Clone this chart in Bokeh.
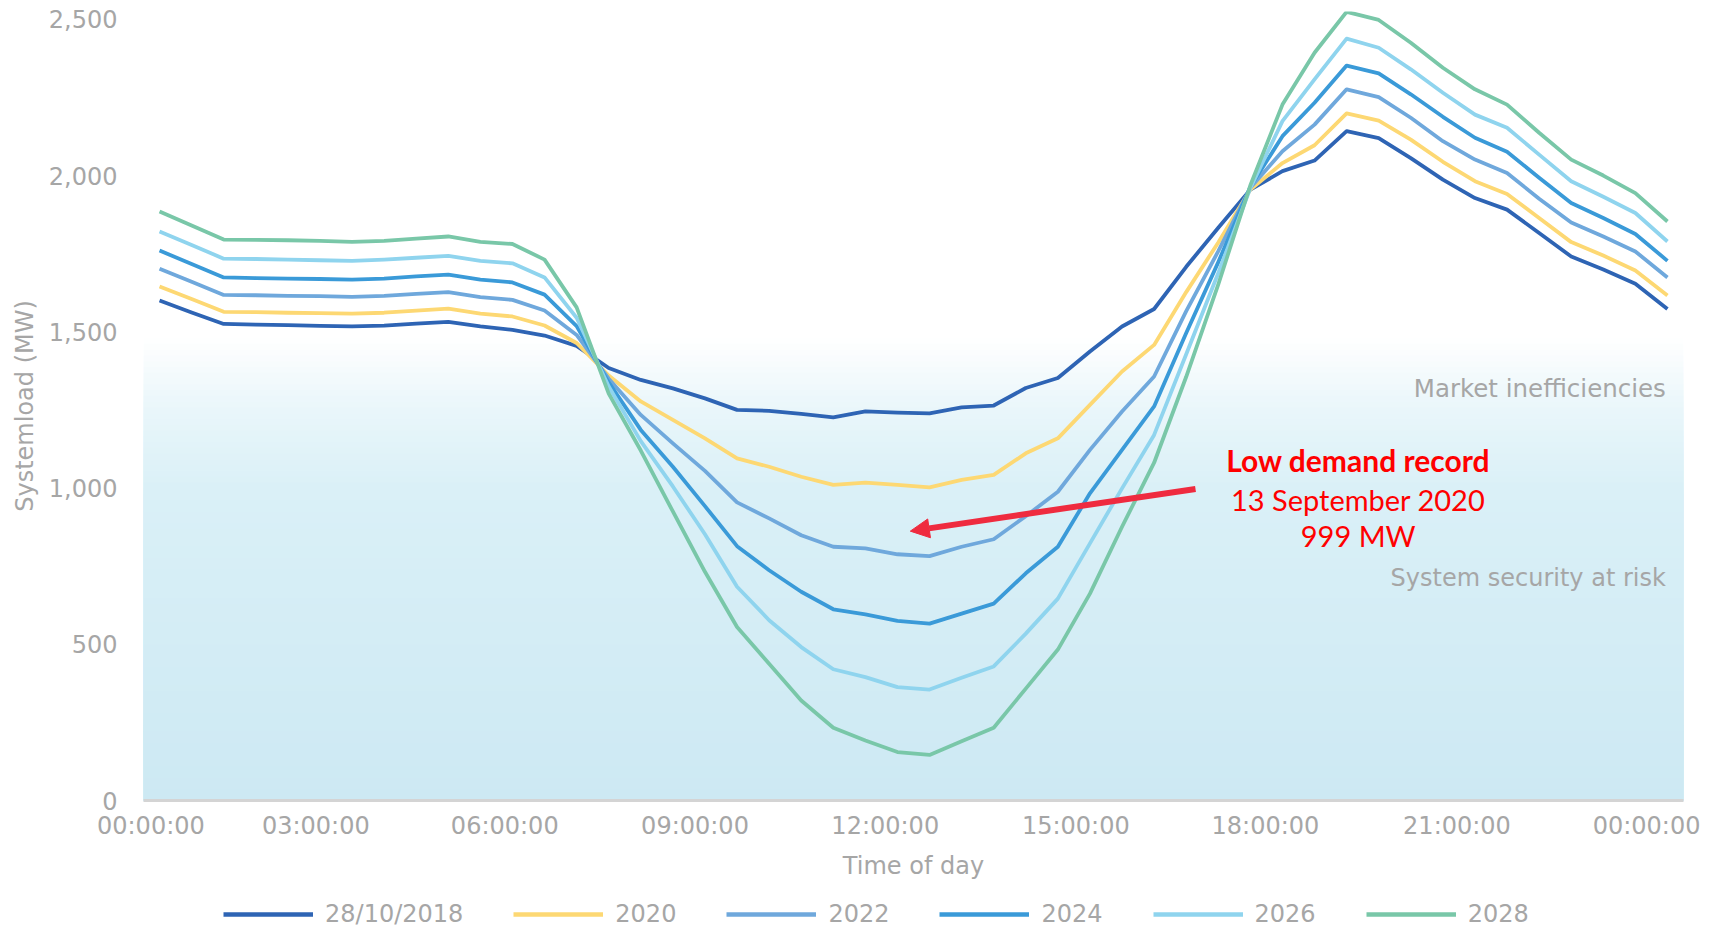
from bokeh.plotting import figure
from bokeh.layouts import column
from bokeh.models import (Range1d, FixedTicker, NumeralTickFormatter, Legend, LegendItem,
                          Label, Arrow, NormalHead)
from bokeh.embed import file_html
from bokeh.resources import INLINE

# ---------------- data (half-hourly samples, MW) ----------------
series_names = ["28/10/2018", "2020", "2022", "2024", "2026", "2028"]
series_colors = ["#2e64b4", "#fdd873", "#6fa8dc", "#3a9ad8", "#8fd4ee", "#79c7a8"]

load_2018 = [1600, 1562, 1525, 1523, 1521, 1519, 1517, 1520, 1526, 1532, 1517, 1506,
             1488, 1455, 1384, 1346, 1319, 1287, 1250, 1247, 1237, 1226, 1245, 1241,
             1239, 1258, 1264, 1320, 1352, 1437, 1517, 1573, 1708, 1833, 1955, 2014,
             2048, 2142, 2120, 2056, 1987, 1928, 1891, 1816, 1741, 1699, 1654, 1573]
load_2020 = [1645, 1605, 1564, 1563, 1561, 1560, 1558, 1561, 1568, 1574, 1558, 1549,
             1520, 1464, 1360, 1277, 1218, 1159, 1095, 1068, 1036, 1010, 1017, 1010,
             1002, 1026, 1042, 1111, 1159, 1266, 1373, 1458, 1627, 1786, 1955, 2040,
             2097, 2199, 2176, 2115, 2044, 1982, 1941, 1864, 1787, 1744, 1696, 1616]
load_2022 = [1702, 1660, 1618, 1617, 1615, 1614, 1612, 1615, 1621, 1627, 1611, 1602,
             1568, 1490, 1350, 1234, 1143, 1055, 954, 903, 849, 812, 807, 788,
             782, 812, 836, 910, 988, 1122, 1245, 1357, 1566, 1758, 1961, 2078,
             2163, 2276, 2251, 2185, 2110, 2051, 2008, 1926, 1850, 1805, 1757, 1674]
load_2024 = [1760, 1717, 1674, 1672, 1670, 1669, 1667, 1670, 1677, 1683, 1667, 1658,
             1619, 1518, 1338, 1186, 1068, 942, 814, 737, 668, 612, 596, 575,
             566, 598, 630, 727, 812, 983, 1122, 1261, 1496, 1723, 1964, 2126,
             2233, 2352, 2327, 2260, 2188, 2121, 2076, 1993, 1912, 1864, 1813, 1727]
load_2026 = [1821, 1778, 1734, 1733, 1731, 1729, 1727, 1731, 1737, 1743, 1727, 1719,
             1674, 1545, 1325, 1150, 1005, 852, 684, 577, 491, 420, 395, 363,
             355, 393, 429, 534, 646, 823, 999, 1170, 1428, 1688, 1960, 2174,
             2308, 2438, 2409, 2340, 2265, 2195, 2153, 2067, 1982, 1932, 1880, 1789]
load_2028 = [1885, 1840, 1795, 1794, 1793, 1791, 1788, 1791, 1798, 1805, 1788, 1781,
             1731, 1578, 1302, 1120, 925, 732, 555, 438, 320, 233, 192, 155,
             146, 190, 233, 358, 483, 662, 876, 1081, 1356, 1652, 1969, 2227,
             2393, 2524, 2498, 2425, 2345, 2276, 2227, 2137, 2051, 2000, 1944, 1853]
all_series = [load_2018, load_2020, load_2022, load_2024, load_2026, load_2028]
slot = list(range(len(load_2018)))   # half-hour slot index

x_tick_positions = [-0.27, 4.87, 10.76, 16.69, 22.62, 28.56, 34.47, 40.44, 46.35]
x_tick_labels = ["00:00:00", "03:00:00", "06:00:00", "09:00:00", "12:00:00",
                 "15:00:00", "18:00:00", "21:00:00", "00:00:00"]
y_ticks = [0, 500, 1000, 1500, 2000, 2500]

# background gradient stops (value, colour)
grad_values = [0, 1000, 1250, 1480]
grad_colors = ["#cde9f3", "#daf0f7", "#e9f6fa", "#ffffff"]

GREY = "#a6a6a6"
FONT = "DejaVu Sans"

X0, X1 = -0.5, 47.5
Y0, Y1 = 0, 2525

p = figure(width=1705, height=897, output_backend="svg", toolbar_location=None,
           x_range=Range1d(X0, X1), y_range=Range1d(Y0, Y1),
           min_border_left=143, min_border_right=22, min_border_top=11, min_border_bottom=97)
p.outline_line_color = None
p.grid.visible = False
p.background_fill_color = "white"

# gradient shading (decorative, stacked from 0 so there are no seams)
def hex2rgb(h):
    return tuple(int(h[i:i + 2], 16) for i in (1, 3, 5))

def interp_color(v):
    for k in range(len(grad_values) - 1):
        a, b = grad_values[k], grad_values[k + 1]
        if a <= v <= b:
            t = (v - a) / (b - a)
            ca, cb = hex2rgb(grad_colors[k]), hex2rgb(grad_colors[k + 1])
            c = [round(ca[j] + (cb[j] - ca[j]) * t) for j in range(3)]
            return "#%02x%02x%02x" % tuple(c)
    return grad_colors[-1]

nb = 80
step = grad_values[-1] / nb
band_tops = [grad_values[-1] - k * step for k in range(nb)]          # largest first
band_cols = [interp_color(t - step / 2) for t in band_tops]
p.quad(left=X0, right=X1, bottom=0, top=band_tops, fill_color=band_cols, line_color=None)

# lines
for vals, col in zip(all_series, series_colors):
    p.line(slot, vals, line_color=col, line_width=3.8, line_join="round")

# axes
xa = p.xaxis[0]
xa.ticker = FixedTicker(ticks=x_tick_positions)
xa.major_label_overrides = {t: l for t, l in zip(x_tick_positions, x_tick_labels)}
xa.major_tick_line_color = None
xa.minor_tick_line_color = None
xa.axis_line_color = "#d4d4d4"
xa.axis_line_width = 3
xa.major_label_standoff = 5
xa.major_label_text_font = FONT
xa.major_label_text_font_size = "24px"
xa.major_label_text_color = GREY
xa.axis_label = "Time of day"
xa.axis_label_text_font = FONT
xa.axis_label_text_font_size = "24px"
xa.axis_label_text_font_style = "normal"
xa.axis_label_text_color = GREY
xa.axis_label_standoff = 9

ya = p.yaxis[0]
ya.ticker = FixedTicker(ticks=y_ticks)
ya.formatter = NumeralTickFormatter(format="0,0")
ya.major_tick_line_color = None
ya.minor_tick_line_color = None
ya.axis_line_color = None
ya.major_label_standoff = 20
ya.major_label_text_font = FONT
ya.major_label_text_font_size = "24px"
ya.major_label_text_color = GREY
ya.axis_label = "Systemload (MW)"
ya.axis_label_text_font = FONT
ya.axis_label_text_font_size = "24px"
ya.axis_label_text_font_style = "normal"
ya.axis_label_text_color = GREY
ya.axis_label_standoff = 7

# zone labels
p.add_layout(Label(x=46.95, y=1320, text="Market inefficiencies", text_align="right",
                   text_baseline="middle", text_font=FONT, text_font_size="24.5px",
                   text_color=GREY))
p.add_layout(Label(x=46.95, y=712, text="System security at risk", text_align="right",
                   text_baseline="middle", text_font=FONT, text_font_size="24px",
                   text_color=GREY))

# record annotation
RED = "#ff0000"
p.add_layout(Label(x=37.36, y=1090, text="Low demand record", text_align="center",
                   text_baseline="middle", text_font="Lato", text_font_size="30px",
                   text_font_style="bold", text_color=RED))
p.add_layout(Label(x=37.36, y=964, text="13 September 2020", text_align="center",
                   text_baseline="middle", text_font="Lato", text_font_size="29px",
                   text_color=RED))
p.add_layout(Label(x=37.36, y=847, text="999 MW", text_align="center",
                   text_baseline="middle", text_font="Lato", text_font_size="29px",
                   text_color=RED))
arrow_col = "#ef2b3f"
p.add_layout(Arrow(end=NormalHead(size=19, fill_color=arrow_col, line_color=arrow_col),
                   x_start=32.29, y_start=997, x_end=23.40, y_end=862,
                   line_color=arrow_col, line_width=6))

# legend strip (separate small figure below the chart; proxy lines lie outside its range)
q = figure(width=1705, height=34, output_backend="svg", toolbar_location=None,
           x_range=Range1d(0, 1), y_range=Range1d(0, 1),
           min_border_left=0, min_border_right=0, min_border_top=0, min_border_bottom=0)
q.axis.visible = False
q.grid.visible = False
q.outline_line_color = None
leg_renderers = [q.line(x=[-2, -1], y=[0.5, 0.5], line_color=c, line_width=4.5)
                 for c in series_colors]
legend = Legend(items=[LegendItem(label=n, renderers=[r]) for n, r in zip(series_names, leg_renderers)],
                orientation="horizontal", location="left", margin=80,
                glyph_width=90, glyph_height=24, label_standoff=12, spacing=50,
                padding=0, border_line_color=None, background_fill_alpha=0,
                label_text_font=FONT, label_text_font_size="24px", label_text_color=GREY)
q.add_layout(legend, "center")

open("out.html", "w").write(file_html(column(p, q, spacing=0), INLINE))
